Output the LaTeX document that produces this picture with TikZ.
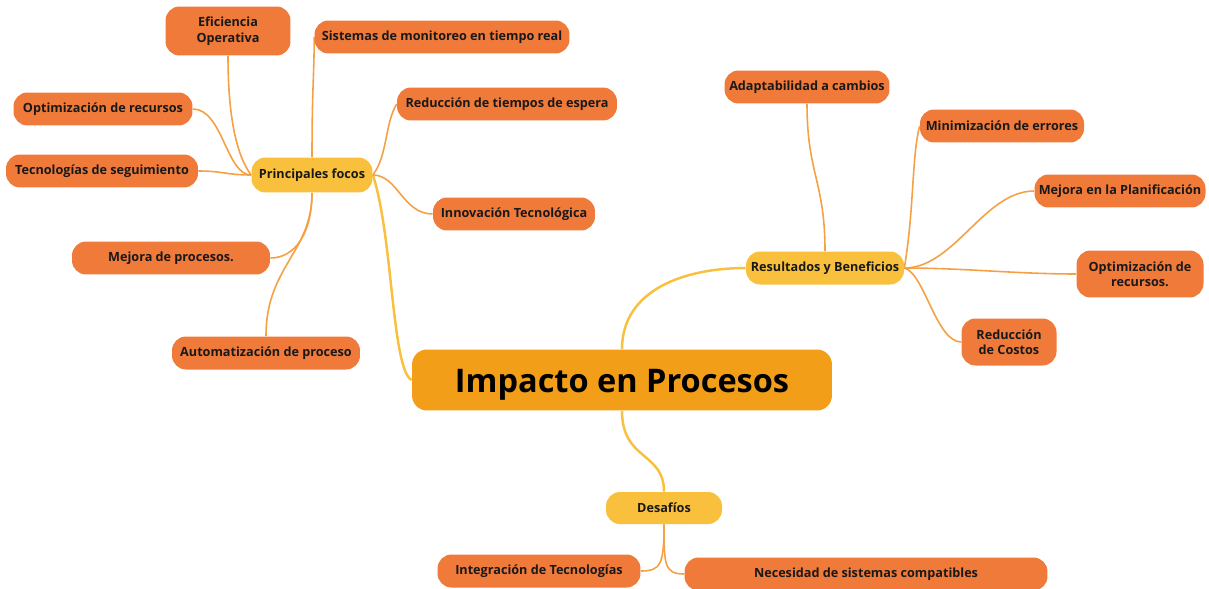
\documentclass[tikz,border=0pt]{standalone}
\usepackage{fontspec}
\setmainfont{Open Sans}
\usepackage{tikz}
\usetikzlibrary{backgrounds}
\definecolor{leafor}{HTML}{F07A3A}
\definecolor{mainor}{HTML}{F29E18}
\definecolor{subyel}{HTML}{F8C03C}
\definecolor{linkor}{HTML}{F5A043}

\begin{document}
\begin{tikzpicture}[x=0.02cm, y=-0.02cm,
    leaf/.style={fill=leafor, rounded corners=0.28cm, minimum height=0.66cm, inner sep=2pt, align=center, font=\fontsize{7.2}{8.8}\selectfont\bfseries, text=black!90},
    topic/.style={leaf, fill=subyel},
    central/.style={fill=mainor, rounded corners=0.3cm, minimum width=8.4cm, minimum height=1.22cm, text height=0.5cm, text depth=0cm, font=\fontsize{18.5}{20}\selectfont\bfseries, text=black},
    link/.style={draw=subyel, line width=1.4pt},
    twig/.style={draw=linkor, line width=0.9pt}]

    \useasboundingbox (0,0) rectangle (1209,588);

    \node[central] (main) at (622,380) {Impacto en Procesos};

    % principales focos
    \node[topic, minimum width=2.42cm, minimum height=0.7cm] (foc) at (312,175) {Principales focos};
    \node[leaf, minimum width=2.5cm, minimum height=0.98cm] (efi) at (228,31) {Eficiencia\\Operativa};
    \node[leaf, minimum width=5.1cm] (sis) at (442,37) {Sistemas de monitoreo en tiempo real};
    \node[leaf, minimum width=3.58cm] (optA) at (103,109) {Optimización de recursos};
    \node[leaf, minimum width=4.4cm] (red) at (507,104) {Reducción de tiempos de espera};
    \node[leaf, minimum width=3.84cm] (tec) at (102,171) {Tecnologías de seguimiento};
    \node[leaf, minimum width=3.24cm] (inn) at (514,214) {Innovación Tecnológica};
    \node[leaf, minimum width=3.96cm] (mej) at (171,258) {Mejora de procesos.};
    \node[leaf, minimum width=3.76cm] (aut) at (266,353) {Automatización de proceso};

    % resultados
    \node[topic, minimum width=3.16cm] (res) at (825,268) {Resultados y Beneficios};
    \node[leaf, minimum width=3.3cm] (ada) at (807,87) {Adaptabilidad a cambios};
    \node[leaf, minimum width=3.28cm] (min) at (1002,126) {Minimización de errores};
    \node[leaf, minimum width=3.42cm] (pla) at (1120,191) {Mejora en la Planificación};
    \node[leaf, minimum width=2.54cm, minimum height=0.94cm] (optB) at (1140,274) {Optimización de\\recursos.};
    \node[leaf, minimum width=1.9cm, minimum height=0.94cm] (cos) at (1009,342) {Reducción\\de Costos};

    % desafios
    \node[topic, minimum width=2.32cm, minimum height=0.64cm] (des) at (664,508) {Desafíos};
    \node[leaf, minimum width=4.06cm] (int) at (539,571) {Integración de Tecnologías};
    \node[leaf, minimum width=7.26cm] (nec) at (866,574) {Necesidad de sistemas compatibles};

    \begin{scope}[on background layer]
        \draw[link] (main.west) .. controls +(-20,-10) and +(20,60) .. (foc.east);
        \draw[link] (main.north) .. controls +(0,-60) and +(-60,0) .. (res.west);
        \draw[link] (main.south) .. controls +(0,50) and +(0,-40) .. (des.north);

        \draw[twig] (foc.west) .. controls +(-15,-20) and +(0,60) .. (efi.south);
        \draw[twig] (foc.north) .. controls +(0,-70) and +(0,40) .. (sis.west);
        \draw[twig] (foc.west) .. controls +(-25,0) and +(30,0) .. (optA.east);
        \draw[twig] (foc.west) .. controls +(-25,0) and +(25,0) .. (tec.east);
        \draw[twig] (foc.east) .. controls +(15,-20) and +(-12,20) .. (red.west);
        \draw[twig] (foc.east) .. controls +(25,0) and +(-30,0) .. (inn.west);
        \draw[twig] (foc.south) .. controls +(0,40) and +(25,0) .. (mej.east);
        \draw[twig] (foc.south) .. controls +(0,60) and +(0,-70) .. (aut.north);

        \draw[twig] (res.north) .. controls +(0,-70) and +(0,70) .. (ada.south);
        \draw[twig] (res.east) .. controls +(10,-60) and +(-8,30) .. (min.west);
        \foreach \n/\c in {pla/50, optB/60}
            \draw[twig] (res.east) .. controls +(\c,0) and +(-\c,0) .. (\n.west);
        \draw[twig] (res.east) .. controls +(20,5) and +(-25,0) .. (cos.west);

        \draw[twig] (des.south) .. controls +(0,40) and +(20,0) .. (int.east);
        \draw[twig] (des.south) .. controls +(0,40) and +(-20,0) .. (nec.west);
    \end{scope}

\end{tikzpicture}
\end{document}
